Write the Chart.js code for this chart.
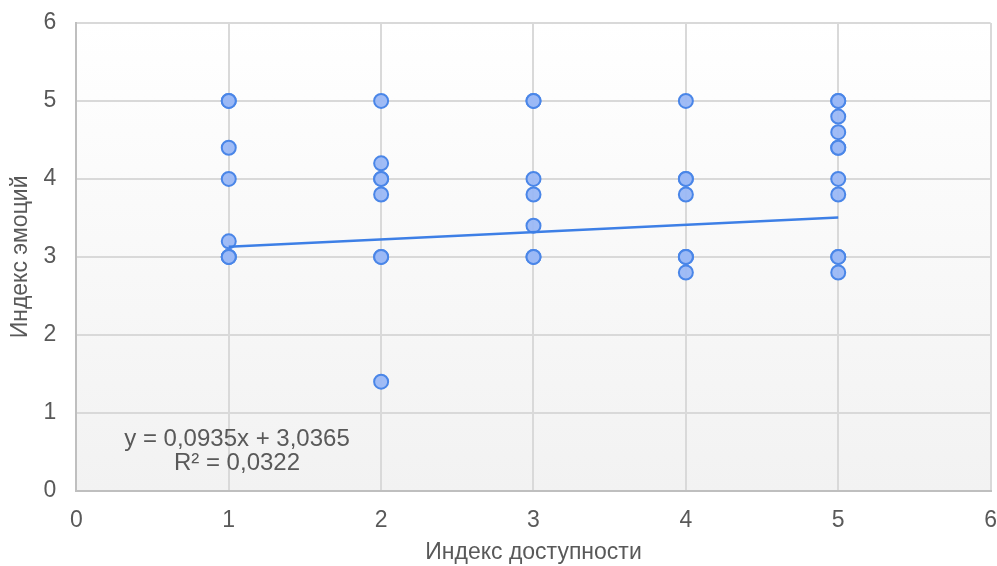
<!DOCTYPE html>
<html lang="ru">
<head>
    <meta charset="UTF-8">
    <title>Индекс доступности / Индекс эмоций</title>
    <script src="https://cdn.jsdelivr.net/npm/chart.js"></script>
    <style>
        body { margin: 0; background: #fff; }
        #wrap { width: 997px; height: 566px; }
    </style>
</head>
<body>
<div id="wrap"><canvas id="chart"></canvas></div>
<script>
    // data (duplicates where the markers look doubled)
    const accessIndex = [1, 1, 1, 1, 1, 1, 1, 1,
                         2, 2, 2, 2, 2, 2, 2, 2,
                         3, 3, 3, 3, 3, 3, 3,
                         4, 4, 4, 4, 4, 4, 4, 4,
                         5, 5, 5, 5, 5, 5, 5, 5, 5, 5, 5];
    const emotionIndex = [5, 5, 4.4, 4, 3.2, 3, 3, 3,
                          5, 4.2, 4, 4, 3.8, 3, 3, 1.4,
                          5, 5, 4, 3.8, 3.4, 3, 3,
                          5, 4, 4, 3.8, 3, 3, 3, 2.8,
                          5, 5, 4.8, 4.6, 4.4, 4.4, 4, 3.8, 3, 3, 2.8];
    const trendX = [1, 5];
    const trendY = [3.13, 3.504];
    const trendText = ['y = 0,0935x + 3,0365', 'R² = 0,0322'];
    const axisTicks = [0, 1, 2, 3, 4, 5, 6];

    const points = accessIndex.map((x, i) => ({ x: x, y: emotionIndex[i] }));
    const trend = trendX.map((x, i) => ({ x: x, y: trendY[i] }));

    const plotBackground = {
        id: 'plotBackground',
        beforeDraw(chart) {
            const { ctx, chartArea: a } = chart;
            const g = ctx.createLinearGradient(0, a.top, 0, a.bottom);
            g.addColorStop(0, '#ffffff');
            g.addColorStop(1, '#f2f2f2');
            ctx.save();
            ctx.fillStyle = g;
            ctx.fillRect(a.left, a.top, a.right - a.left, a.bottom - a.top);
            ctx.restore();
        }
    };

    const trendLabel = {
        id: 'trendLabel',
        afterDatasetsDraw(chart) {
            const ctx = chart.ctx;
            const xs = chart.scales.x, ys = chart.scales.y;
            const cx = xs.getPixelForValue(1.054);
            ctx.save();
            ctx.font = '24px "Liberation Sans", Arial, sans-serif';
            ctx.fillStyle = '#595959';
            ctx.textAlign = 'center';
            ctx.textBaseline = 'middle';
            ctx.fillText(trendText[0], cx, ys.getPixelForValue(0.654));
            ctx.fillText(trendText[1], cx, ys.getPixelForValue(0.346));
            ctx.restore();
        }
    };

    const tickFont = { family: '"Liberation Sans", Arial, sans-serif', size: 23 };

    new Chart(document.getElementById('chart'), {
        type: 'scatter',
        data: {
            datasets: [{
                label: 'Тренд',
                type: 'line',
                data: trend,
                borderColor: '#3d7fe6',
                borderWidth: 2.5,
                pointRadius: 0,
                fill: false,
                order: 0
            }, {
                label: 'Индекс эмоций',
                data: points,
                backgroundColor: 'rgba(155, 184, 246, 0.95)',
                borderColor: '#4a86e8',
                borderWidth: 2,
                pointRadius: 7,
                order: 1
            }]
        },
        options: {
            responsive: true,
            maintainAspectRatio: false,
            animation: false,
            layout: { autoPadding: false, padding: { top: 23, right: 0, left: 7, bottom: 0 } },
            plugins: {
                legend: { display: false },
                tooltip: { enabled: false }
            },
            scales: {
                x: {
                    type: 'linear',
                    min: axisTicks[0],
                    max: axisTicks[axisTicks.length - 1],
                    afterBuildTicks(axis) { axis.ticks = axisTicks.map(v => ({ value: v })); },
                    grid: { color: '#d9d9d9', lineWidth: 2, tickLength: 16, tickColor: 'rgba(0,0,0,0)' },
                    border: { color: '#bfbfbf', width: 2 },
                    ticks: { color: '#595959', font: tickFont, padding: 0 },
                    title: {
                        display: true,
                        text: 'Индекс доступности',
                        color: '#595959',
                        font: tickFont,
                        padding: { top: 4, bottom: 0 }
                    }
                },
                y: {
                    type: 'linear',
                    min: axisTicks[0],
                    max: axisTicks[axisTicks.length - 1],
                    afterBuildTicks(axis) { axis.ticks = axisTicks.map(v => ({ value: v })); },
                    grid: { color: '#d9d9d9', lineWidth: 2, tickLength: 20, tickColor: 'rgba(0,0,0,0)' },
                    border: { color: '#bfbfbf', width: 2 },
                    ticks: { color: '#595959', font: tickFont, padding: 0 },
                    title: {
                        display: true,
                        text: 'Индекс эмоций',
                        color: '#595959',
                        font: tickFont,
                        padding: { top: 0, bottom: 9 }
                    }
                }
            }
        },
        plugins: [plotBackground, trendLabel]
    });
</script>
</body>
</html>
